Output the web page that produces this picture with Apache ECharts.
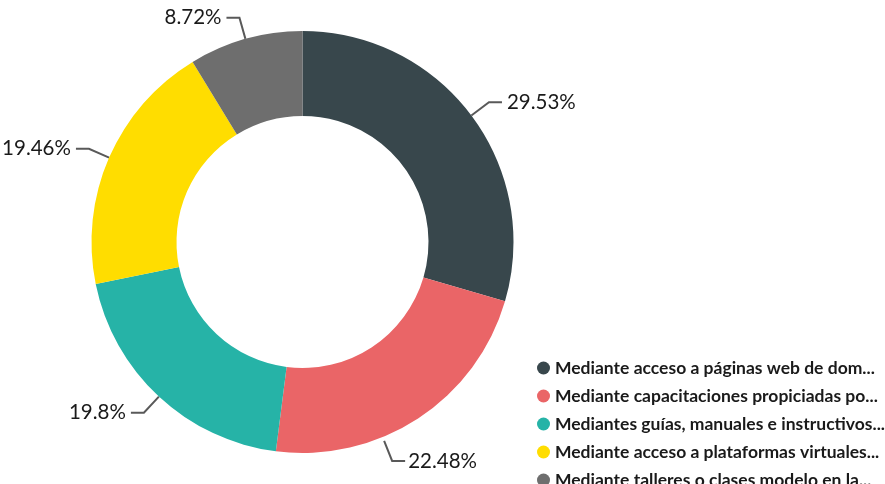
<!DOCTYPE html>
<html>
<head>
<meta charset="utf-8">
<script src="https://cdn.jsdelivr.net/npm/echarts@6/dist/echarts.min.js"></script>
<style>
  html, body { margin: 0; padding: 0; background: #ffffff; }
  #chart { width: 885px; height: 484px; }
</style>
</head>
<body>
<div id="chart"></div>
<script>
// Survey answers: share of respondents per channel (percent)
const categories = [
  'Mediante acceso a páginas web de dom...',
  'Mediante capacitaciones propiciadas po...',
  'Mediantes guías, manuales e instructivos...',
  'Mediante acceso a plataformas virtuales...',
  'Mediante talleres o clases modelo en la...'
];
const values = [29.53, 22.48, 19.8, 19.46, 8.72];
const colors = ['#38474c', '#ea6567', '#26b3a7', '#ffdd00', '#6e6e6e'];

const chart = echarts.init(document.getElementById('chart'), null, { renderer: 'canvas' });

// The second slice's label is dropped below the ring; its leader line is
// redrawn from the moved label back up to the ring.
function shiftedLabel(p) {
  if (p.dataIndex !== 1) return {};
  const dx = -40, dy = 24;
  const r = p.labelRect;
  const end = [r.x + dx - 3, r.y + dy + r.height / 2];
  const bend = [end[0] - 13, end[1]];
  const start = [bend[0] - 8, bend[1] - 20];
  return { dx, dy, labelLinePoints: [start, bend, end] };
}

chart.setOption({
  animation: false,
  color: colors,
  legend: {
    orient: 'vertical',
    left: 532,
    top: 354,
    height: 200,
    icon: 'circle',
    itemWidth: 13,
    itemHeight: 13,
    itemGap: 10,
    textStyle: {
      fontFamily: 'Lato',
      fontWeight: 'bold',
      fontSize: 17.5,
      color: '#1a1a1a'
    },
    data: categories
  },
  series: [{
    type: 'pie',
    center: [302.5, 242],
    radius: [126, 211],
    startAngle: 90,
    clockwise: true,
    avoidLabelOverlap: false,
    data: categories.map((name, i) => ({ name, value: values[i] })),
    label: {
      show: true,
      formatter: p => p.value + '%',
      fontFamily: 'Lato',
      fontSize: 20.5,
      color: '#1a1a1a'
    },
    labelLine: {
      show: true,
      length: 22,
      length2: 13,
      lineStyle: { color: '#595959', width: 2 }
    },
    labelLayout: shiftedLabel,
    emphasis: { disabled: true }
  }]
});
</script>
</body>
</html>
